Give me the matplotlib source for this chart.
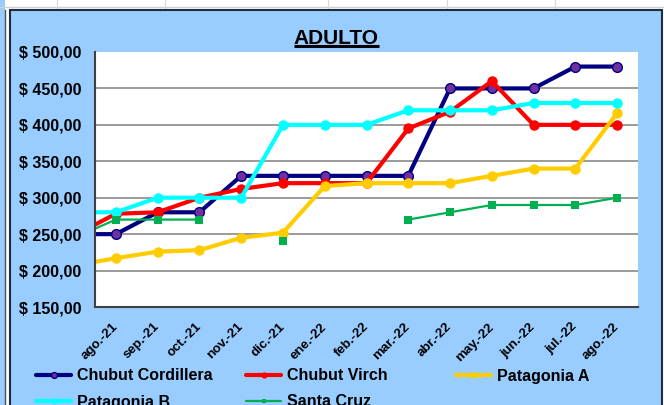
import matplotlib
matplotlib.use('Agg')
import matplotlib.pyplot as plt
import numpy as np
from matplotlib.patches import Rectangle
from matplotlib.lines import Line2D

# ---------------- data ----------------
months = ['jul.-21', 'ago.-21', 'sep.-21', 'oct.-21', 'nov.-21', 'dic.-21', 'ene.-22',
          'feb.-22', 'mar.-22', 'abr.-22', 'may.-22', 'jun.-22', 'jul.-22', 'ago.-22']
shown_months = months[1:]
chubut_cordillera = [250, 250, 280, 280, 330, 330, 330, 330, 330, 450, 450, 450, 480, 480]
chubut_virch = [248, 278, 280, 300, 312, 320, 320, 320, 395, 418, 460, 400, 400, 400]
patagonia_a = [207, 217, 226, 228, 245, 252, 316, 320, 320, 320, 330, 340, 340, 416]
patagonia_b = [280, 280, 300, 300, 300, 400, 400, 400, 420, 420, 420, 430, 430, 430]
santa_cruz = [245, 270, 270, 270, np.nan, 241, np.nan, np.nan, 270, 280, 290, 290, 290, 300]
y_ticks = [150, 200, 250, 300, 350, 400, 450, 500]
title = 'ADULTO'

series = [
    ('Chubut Cordillera', chubut_cordillera, dict(color='#000080', lw=3.0, marker='o', ms=7,
                                                  mfc='#7030A0', mec='#000080', mew=1.0)),
    ('Chubut Virch', chubut_virch, dict(color='#FF0000', lw=3.0, marker='o', ms=7.5,
                                        mfc='#FF0000', mec='#FF0000', mew=0)),
    ('Patagonia A', patagonia_a, dict(color='#FFCC00', lw=3.0, marker='o', ms=7.5,
                                      mfc='#FFCC00', mec='#FFCC00', mew=0)),
    ('Patagonia B', patagonia_b, dict(color='#00FFFF', lw=3.0, marker='o', ms=7.5,
                                      mfc='#00FFFF', mec='#00FFFF', mew=0)),
    ('Santa Cruz', santa_cruz, dict(color='#00B050', lw=1.6, marker='s', ms=5.5,
                                    mfc='#00B050', mec='#00B050', mew=0)),
]

# ---------------- figure ----------------
plt.rcParams['font.family'] = ['Liberation Sans', 'DejaVu Sans']
plt.rcParams['font.weight'] = 'bold'

W, H = 664, 405
fig = plt.figure(figsize=(W / 100, H / 100), dpi=100)
fig.patch.set_facecolor('white')


def fx(x):
    return x / W


def fy(y):
    return 1 - y / H


BLUE = '#99CCFF'
# spreadsheet surroundings
fig.add_artist(Rectangle((0, 0), fx(5), 1, transform=fig.transFigure,
                         facecolor=BLUE, edgecolor='none', zorder=-10))
fig.add_artist(Line2D([fx(5), fx(5)], [0, fy(10)], transform=fig.transFigure,
                      color='#505050', lw=1.0, zorder=-9))
fig.add_artist(Line2D([0, 1], [fy(6.5), fy(6.5)], transform=fig.transFigure,
                      color='#D0D0D0', lw=1.0, zorder=-9))
for gx in [57, 165, 328, 447, 555]:
    fig.add_artist(Line2D([fx(gx), fx(gx)], [fy(0), fy(10)], transform=fig.transFigure,
                          color='#D8D8D8', lw=0.8, zorder=-9))
# chart area
fig.add_artist(Rectangle((fx(10), fy(420)), fx(662) - fx(10), (420 - 10) / H,
                         transform=fig.transFigure, facecolor=BLUE,
                         edgecolor='#1F2F40', lw=1.5, zorder=-8))

ax = fig.add_axes([fx(95), fy(307), fx(638) - fx(95), (307 - 52) / H])
ax.set_facecolor('white')

x = np.arange(len(months)) - 1
lines = []
for name, vals, st in series:
    ln, = ax.plot(x, vals, label=name, solid_capstyle='round', **st)
    lines.append(ln)

ax.set_xlim(-0.5, len(shown_months) - 0.5)
ax.set_ylim(min(y_ticks), max(y_ticks))
ax.set_yticks(y_ticks)
ax.set_yticklabels([('$ %.2f' % v).replace('.', ',') for v in y_ticks])
ax.set_xticks(np.arange(len(shown_months)))
ax.set_xticklabels(shown_months)
for lab in ax.get_xticklabels():
    lab.set_rotation(45)
    lab.set_ha('right')
    lab.set_va('center')
    lab.set_rotation_mode('anchor')

ax.yaxis.grid(True, color='#808080', lw=1.1)
ax.set_axisbelow(True)
ax.yaxis.get_gridlines()[-1].set_visible(False)
for s in ['top', 'right']:
    ax.spines[s].set_visible(False)
for s in ['left', 'bottom']:
    ax.spines[s].set_color('#404040')
    ax.spines[s].set_linewidth(1.5)
ax.tick_params(axis='both', length=0)
ax.tick_params(axis='y', pad=10, labelsize=11.5)
ax.tick_params(axis='x', pad=13, labelsize=9.5)

# title with underline
t = fig.text(fx(336), fy(44), title, ha='center', va='baseline', fontsize=15, fontweight='bold')
fig.canvas.draw()
bb = t.get_window_extent(fig.canvas.get_renderer())
fig.add_artist(Line2D([bb.x0 / W, bb.x1 / W], [fy(46), fy(46)], transform=fig.transFigure,
                      color='black', lw=2.2, solid_capstyle='butt'))

# legend, laid out in a fixed grid (3 columns)
for i, ln in enumerate(lines):
    col, row = i % 3, i // 3
    fig.legend([ln], [ln.get_label()], loc='center left',
               bbox_to_anchor=(fx(36 + 210 * col), fy(376 + 26 * row)),
               frameon=False, fontsize=11.5, handlelength=2.2, handletextpad=0.35,
               borderpad=0, borderaxespad=0, markerscale=0.6)

fig.savefig('out.png', dpi=100)
